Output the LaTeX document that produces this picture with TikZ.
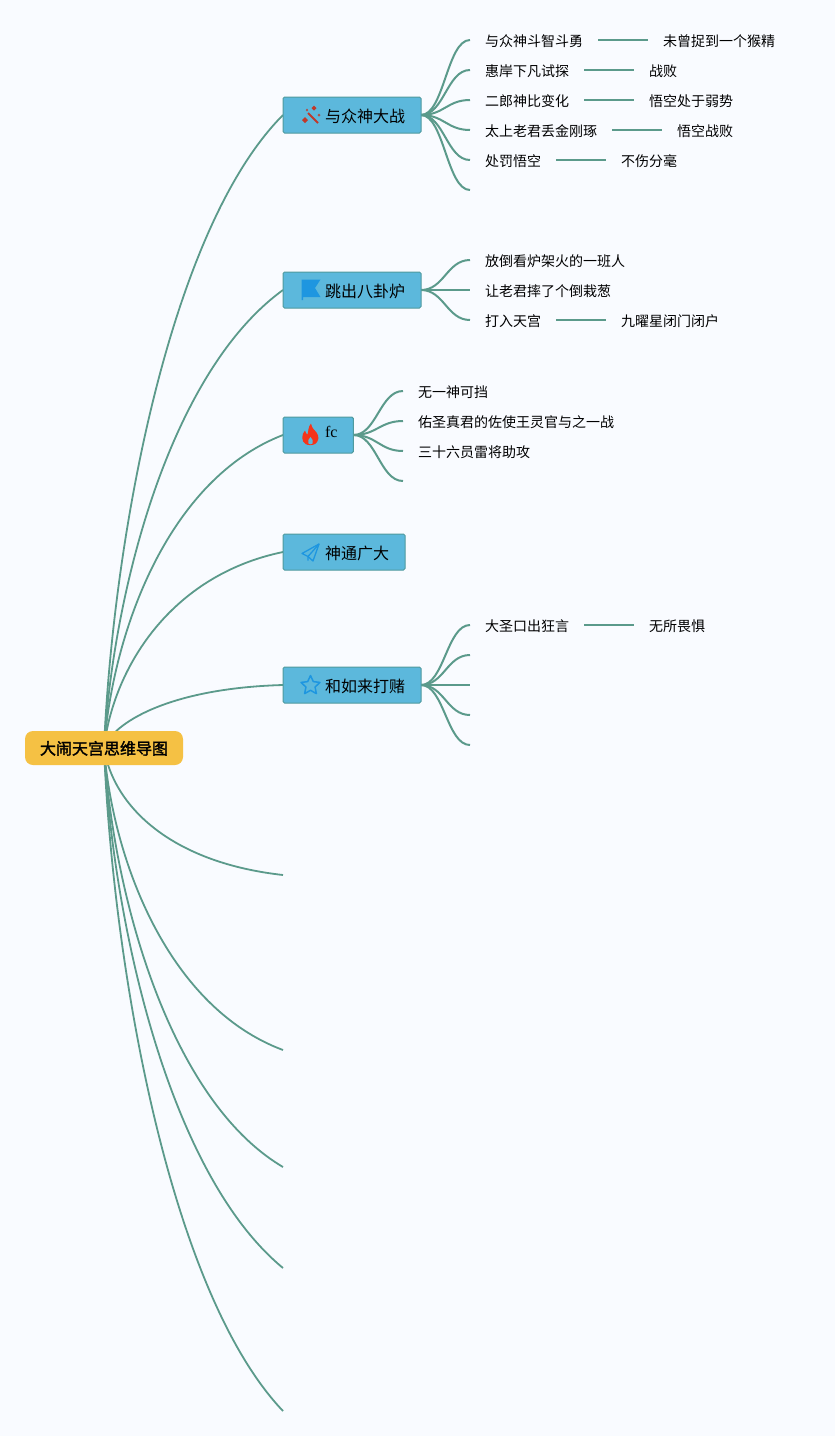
\documentclass[tikz,border=0pt]{standalone}
\usepackage{fontspec}
\setmainfont{Liberation Serif}
\newfontfamily\cjk{Noto Sans CJK SC}
\newfontfamily\cjkbold[FakeBold=1.8]{Noto Sans CJK SC}
\usetikzlibrary{positioning,calc}
\definecolor{pagebg}{HTML}{F9FBFF}
\definecolor{edgecol}{HTML}{5B9A8B}
\definecolor{boxfill}{HTML}{5CB8DC}
\definecolor{boxline}{HTML}{4F9A9E}
\definecolor{rootfill}{HTML}{F5C144}
\definecolor{iconblue}{HTML}{1E96E0}
\definecolor{iconred}{HTML}{F5341A}
\definecolor{wandred}{HTML}{C0392B}
\pgfdeclarelayer{edges}
\pgfsetlayers{edges,main}
\tikzset{
  rootnode/.style={fill=rootfill,rounded corners=8pt,minimum width=158pt,minimum height=34pt,inner sep=0pt,outer sep=0pt,
    font=\cjkbold\fontsize{16}{18}\selectfont,text=black,text height=13.5pt,text depth=0.5pt},
  branch/.style={draw=boxline,line width=1pt,fill=boxfill,rounded corners=1.5pt,anchor=west,minimum height=36pt,inner xsep=16pt,inner ysep=0pt,outer sep=0pt,
    font=\cjk\fontsize{16}{18}\selectfont,text=black,text height=14pt,text depth=0pt},
  leaf/.style={inner xsep=15pt,inner ysep=1pt,outer sep=0pt,font=\cjk\fontsize{14}{16}\selectfont,text=black,text height=13.4pt,text depth=0.8pt},
  rootedge/.style={draw=edgecol,line width=1.8pt},
  subedge/.style={draw=edgecol,line width=2pt},
}
\newcommand{\rootlink}[3]{\draw[rootedge] let \p1=(root.center),\p2=(#1) in (\p1) .. controls ({\x1+0.05*(\x2-\x1)},{\y1+#2*(\y2-\y1)}) and ({\x1+0.365*(\x2-\x1)},{\y1+#3*(\y2-\y1)}) .. (\p2);}
\newcommand{\sublink}[3]{\draw[subedge] (#1) .. controls +(#3pt,0pt) and +(-#3pt,0pt) .. (#2);}
\begin{document}
\begin{tikzpicture}[x=1pt,y=-1pt]
\useasboundingbox (0,0) rectangle (835,1436);
\begin{pgfonlayer}{edges}
\fill[pagebg] (0,0) rectangle (835,1436);
\end{pgfonlayer}

\node[rootnode] (root) at (104,748) {大闹天宫思维导图};

\node[branch] (b1) at (283,115) {\hspace*{26pt}与众神大战};
\node[branch] (b2) at (283,290) {\hspace*{26pt}跳出八卦炉};
\node[branch] (b3) at (283,435) {\hspace*{26pt}\rmfamily\raisebox{5pt}{fc}};
\node[branch] (b4) at (283,552) {\hspace*{26pt}神通广大};
\node[branch] (b5) at (283,685) {\hspace*{26pt}和如来打赌};

\coordinate (e6) at (283,875);
\coordinate (e7) at (283,1050);
\coordinate (e8) at (283,1167);
\coordinate (e9) at (283,1268);
\coordinate (e10) at (283,1411);

% group 1
\node[leaf,anchor=west] (a1) at (470,40) {与众神斗智斗勇};
\node[leaf,right=50pt of a1] (a1x) {未曾捉到一个猴精};
\node[leaf,anchor=west] (a2) at (470,70) {惠岸下凡试探};
\node[leaf,right=50pt of a2] (a2x) {战败};
\node[leaf,anchor=west] (a3) at (470,100) {二郎神比变化};
\node[leaf,right=50pt of a3] (a3x) {悟空处于弱势};
\node[leaf,anchor=west] (a4) at (470,130) {太上老君丢金刚琢};
\node[leaf,right=50pt of a4] (a4x) {悟空战败};
\node[leaf,anchor=west] (a5) at (470,160) {处罚悟空};
\node[leaf,right=50pt of a5] (a5x) {不伤分毫};
\coordinate (a6) at (470,190);
% group 2
\node[leaf,anchor=west] (c1) at (470,260) {放倒看炉架火的一班人};
\node[leaf,anchor=west] (c2) at (470,290) {让老君摔了个倒栽葱};
\node[leaf,anchor=west] (c3) at (470,320) {打入天宫};
\node[leaf,right=50pt of c3] (c3x) {九曜星闭门闭户};
% group 3
\node[leaf,anchor=west] (d1) at (403,391) {无一神可挡};
\node[leaf,anchor=west] (d2) at (403,421) {佑圣真君的佐使王灵官与之一战};
\node[leaf,anchor=west] (d3) at (403,451) {三十六员雷将助攻};
\coordinate (d4) at (403,481);
% group 5
\node[leaf,anchor=west] (f1) at (470,625) {大圣口出狂言};
\node[leaf,right=50pt of f1] (f1x) {无所畏惧};
\coordinate (f2) at (470,655);
\coordinate (f3) at (470,685);
\coordinate (f4) at (470,715);
\coordinate (f5) at (470,745);

\begin{pgfonlayer}{edges}
\rootlink{b1.west}{0.33}{0.82}
\rootlink{b2.west}{0.34}{0.82}
\rootlink{b3.west}{0.38}{0.86}
\rootlink{b4.west}{0.40}{0.88}
\rootlink{b5.west}{0.40}{0.95}
\rootlink{e6}{0.45}{0.90}
\rootlink{e7}{0.38}{0.86}
\rootlink{e8}{0.35}{0.84}
\rootlink{e9}{0.34}{0.82}
\rootlink{e10}{0.33}{0.82}
\foreach \t in {a1,a2,a3,a4,a5}{\sublink{b1.east}{\t.west}{23}}
\sublink{b1.east}{a6}{23}
\foreach \t in {c1,c2,c3}{\sublink{b2.east}{\t.west}{23}}
\foreach \t in {d1,d2,d3}{\sublink{b3.east}{\t.west}{23}}
\sublink{b3.east}{d4}{23}
\sublink{b5.east}{f1.west}{23}
\foreach \t in {f2,f3,f4,f5}{\sublink{b5.east}{\t}{23}}
\draw[subedge] (a1.east) -- (a1x.west);
\draw[subedge] (a2.east) -- (a2x.west);
\draw[subedge] (a3.east) -- (a3x.west);
\draw[subedge] (a4.east) -- (a4x.west);
\draw[subedge] (a5.east) -- (a5x.west);
\draw[subedge] (c3.east) -- (c3x.west);
\draw[subedge] (f1.east) -- (f1x.west);
\end{pgfonlayer}

% wand icon
\draw[wandred,line width=2pt] (308,113) -- (318,123);
\fill[wandred] (305,117) -- (308,120) -- (305,123) -- (302,120) -- cycle;
\fill[wandred] (314,105.5) -- (316.5,108) -- (314,110.5) -- (311.5,108) -- cycle;
\fill[wandred!80!boxfill] (319,113.5) -- (320.5,115) -- (319,116.5) -- (317.5,115) -- cycle;
\fill[wandred!80!boxfill] (307,108.5) -- (308.2,110) -- (307,111.5) -- (305.8,110) -- cycle;
% flag icon
\fill[iconblue] (301.5,279.5) -- (320.5,279.5) -- (315,288) -- (320.5,297) -- (303,297) -- (303,300) -- (301.5,300) -- cycle;
% flame icon
\fill[iconred] (311,423.5) .. controls (312,429) and (315,430) .. (316.5,432.5)
  .. controls (319.5,436) and (319,441.5) .. (315,444)
  .. controls (312.5,445.5) and (308,445.5) .. (305.5,444)
  .. controls (301,441.5) and (301.5,434) .. (305,430.5)
  .. controls (305.5,433) and (306.5,434) .. (307.5,434.5)
  .. controls (308.5,431) and (308,427) .. (311,423.5) -- cycle;
\fill[boxfill] (310.5,437) .. controls (312,439) and (314,441) .. (312.5,443.5)
  .. controls (311.5,444.5) and (309.5,444.5) .. (308.5,443.5)
  .. controls (307,441) and (309,439) .. (310.5,437) -- cycle;
% paper plane icon
\draw[iconblue,line width=1.3pt,line join=round] (319,544) -- (302,553.5) -- (308,556.5) -- (313,561) -- cycle;
\draw[iconblue,line width=1.3pt,line join=round] (319,544) -- (308,556.5) -- (308,560.5);
% star icon
\draw[iconblue,line width=1.5pt,line join=round,shift={(310.5,685.5)}]
  (-90:10) -- (-54:4.8) -- (-18:10) -- (18:4.8) -- (54:10) -- (90:4.8) -- (126:10) -- (162:4.8) -- (198:10) -- (234:4.8) -- cycle;
\end{tikzpicture}
\end{document}
